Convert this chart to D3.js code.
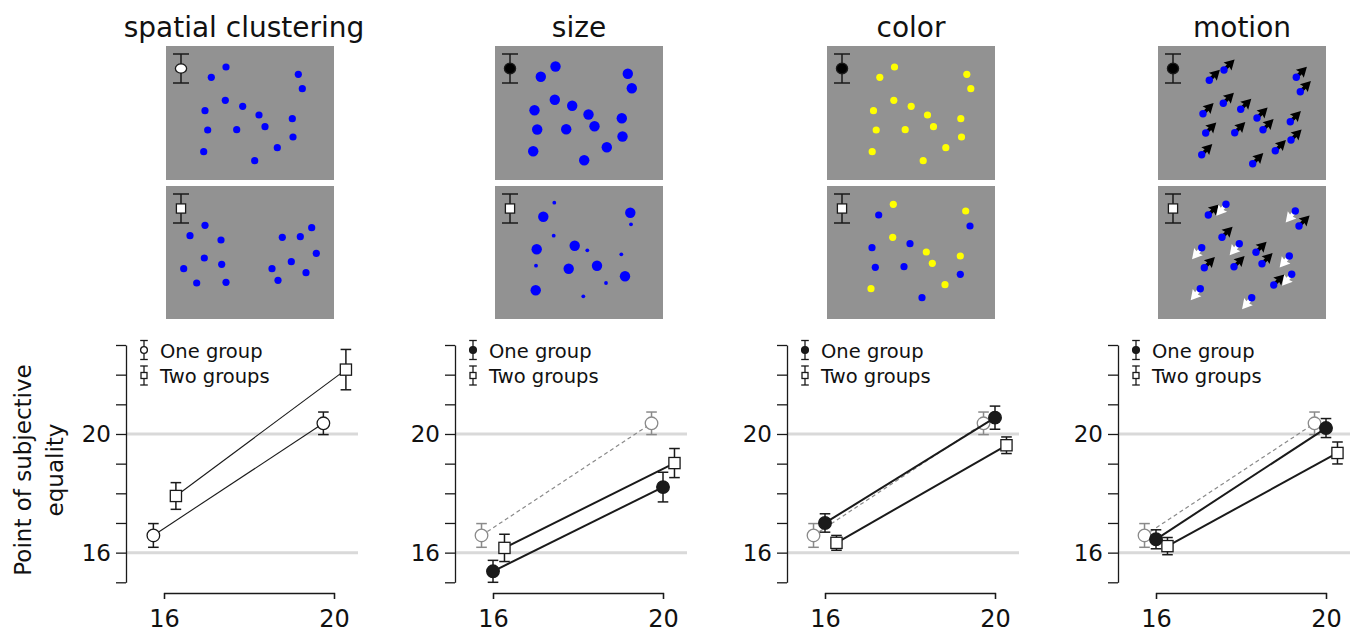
<!DOCTYPE html>
<html>
<head>
<meta charset="utf-8">
<script src="https://cdn.jsdelivr.net/npm/d3@7"></script>
<style>
  body { margin: 0; background: #fff; }
  text { font-family: "DejaVu Sans", sans-serif; fill: #111; }
</style>
</head>
<body>
<div id="chart"></div>
<script>
// ---- data ----
var conditions = ["spatial clustering", "size", "color", "motion"];
var sizes = [16, 20];
var yTicks = [15, 16, 17, 18, 19, 20, 21, 22, 23];
var yLabels = [16, 20];
var refLevels = [16, 20];
var legendLabels = ["One group", "Two groups"];

// baseline "one group" (spatial clustering), repeated in grey on the other panels
var baseOne = [16.58, 20.36];
var baseOneErr = [0.40, 0.38];

var oneGroup = [[16.58, 20.36], [15.37, 18.21], [17.00, 20.55], [16.45, 20.20]];
var oneGroupErr = [[0.40, 0.38], [0.37, 0.50], [0.31, 0.39], [0.32, 0.32]];
var twoGroups = [[17.91, 22.17], [16.16, 19.02], [16.33, 19.62], [16.22, 19.36]];
var twoGroupsErr = [[0.45, 0.68], [0.46, 0.49], [0.25, 0.28], [0.29, 0.37]];

// stimulus dot layouts (panel units, 168 x 134)
var onePos = [[45.3, 31.3], [60, 21], [132.3, 28.3], [136.3, 42.7], [59.3, 54.3], [39, 64.7],
              [76.7, 60.3], [93, 69], [99, 80.7], [126.3, 72.7], [41.7, 84], [70.7, 83.7],
              [127, 91], [111.3, 101.7], [37.7, 105.7], [88.7, 114.7]];
var spatialTwo = [[39, 39.3], [24, 49.7], [55, 54], [38.3, 72], [55.7, 78.3], [17.7, 82.7], [30.7, 97], [60, 96.3],
                  [145.7, 41.7], [116.3, 51.3], [134.3, 50.7], [150.3, 67.3], [125.3, 75.7], [106, 82.7], [140, 86.7], [112, 94.3]];
var sizeBig = [[48.3, 30.7], [135.3, 26.7], [41.7, 63.3], [79.7, 59.7], [73.7, 82.7], [102, 79.7], [130, 90.3], [40.7, 104.3]];
var sizeSmall = [[59.3, 16.7], [136, 38.3], [58.7, 49.7], [92.3, 64.3], [126.3, 68.3], [41, 79.7], [111, 97], [88.3, 110.3]];
var colorYellow = [[66.3, 18.3], [138.7, 25], [65.7, 51.3], [99.3, 66], [105.3, 77.3], [133.3, 70], [118, 98.7], [44, 102.7]];
var colorBlue = [[51.7, 29], [143, 40], [45, 61.7], [83, 57.7], [48.3, 81.3], [77, 80.7], [133.3, 88.3], [95, 111.7]];
var motionBlack = [[50.3, 29], [141, 40], [64, 51.3], [98, 66.3], [46.3, 81.7], [76, 80.7], [104, 77.7], [115.7, 99]];
var motionWhite = [[68, 18.3], [137.3, 25], [43.7, 61.7], [81.3, 57.7], [131.3, 70], [133.7, 88.3], [42.3, 102.7], [93.7, 111.7]];

// ---- layout ----
var w = 1354, h = 632;
var chartLeft = [126, 455, 787, 1118];
var BLUE = "#0000ff", YELLOW = "#ffff00", PANEL = "#929292", INK = "#1a1a1a", GREY = "#8a8a8a";

var svg = d3.select("#chart").append("svg")
    .attr("width", w)
    .attr("height", h);

var yScale = d3.scaleLinear().domain([15, 23]).range([582.3, 345]);

// stimulus configs per condition
var topSets = [
    [{ pts: onePos, r: 3.6, fill: BLUE, dx: 0, dy: 0 }],
    [{ pts: onePos, r: 5.2, fill: BLUE, dx: 0.5, dy: -0.5 }],
    [{ pts: onePos, r: 3.6, fill: YELLOW, dx: 7.5, dy: 0 }],
    [{ pts: onePos, r: 3.7, fill: BLUE, dx: 6, dy: 3, arrow: "black" }]
];
var bottomSets = [
    [{ pts: spatialTwo, r: 3.6, fill: BLUE }],
    [{ pts: sizeBig, r: 5.2, fill: BLUE }, { pts: sizeSmall, r: 1.9, fill: BLUE }],
    [{ pts: colorYellow, r: 3.6, fill: YELLOW }, { pts: colorBlue, r: 3.6, fill: BLUE }],
    [{ pts: motionBlack, r: 3.7, fill: BLUE, arrow: "black" }, { pts: motionWhite, r: 3.7, fill: BLUE, arrow: "white" }]
];

function arrowPath() {
    return "M0,-1.8 L6,-1.8 L5,-5.6 L15,0 L5,5.6 L6,1.8 L0,1.8 Z";
}

function drawPanel(g, left, top, ph, sets, glyph) {
    var px = d3.scaleLinear().domain([0, 168]).range([left, left + 168]);
    var py = d3.scaleLinear().domain([0, ph]).range([top, top + ph]);

    g.append("rect")
        .attr("x", px(0)).attr("y", py(0))
        .attr("width", px(168) - px(0)).attr("height", py(ph) - py(0))
        .attr("fill", PANEL);

    sets.forEach(function(s) {
        var dx = s.dx || 0, dy = s.dy || 0;
        if (s.arrow) {
            g.selectAll(null).data(s.pts).join("path")
                .attr("d", arrowPath())
                .attr("transform", function(d) {
                    return "translate(" + px(d[0] + dx) + "," + py(d[1] + dy) + ") rotate(" + (s.arrow === "black" ? -45 : 130) + ")";
                })
                .attr("fill", s.arrow === "black" ? "#000" : "#fff");
        }
    });
    sets.forEach(function(s) {
        var dx = s.dx || 0, dy = s.dy || 0;
        g.selectAll(null).data(s.pts).join("circle")
            .attr("cx", function(d) { return px(d[0] + dx); })
            .attr("cy", function(d) { return py(d[1] + dy); })
            .attr("r", s.r)
            .attr("fill", s.fill);
    });

    // little error-bar glyph top-left
    var gx = px(15);
    g.append("line").attr("x1", gx).attr("x2", gx).attr("y1", py(8)).attr("y2", py(37))
        .attr("stroke", INK).attr("stroke-width", 1.5);
    [8, 37].forEach(function(v) {
        g.append("line").attr("x1", gx - 8).attr("x2", gx + 8).attr("y1", py(v)).attr("y2", py(v))
            .attr("stroke", INK).attr("stroke-width", 1.5);
    });
    if (glyph === "square") {
        g.append("rect").attr("x", gx - 4.6).attr("y", py(22.5) - 4.6).attr("width", 9.2).attr("height", 9.2)
            .attr("fill", "#fff").attr("stroke", INK).attr("stroke-width", 1.3);
    } else {
        g.append("ellipse").attr("cx", gx).attr("cy", py(22.5))
            .attr("rx", 5.6).attr("ry", glyph === "open" ? 4.6 : 5.4)
            .attr("fill", glyph === "open" ? "#fff" : "#000")
            .attr("stroke", INK).attr("stroke-width", 1.3);
    }
}

function drawMarker(sel, kind, color, size) {
    if (kind === "square") {
        sel.append("rect")
            .attr("x", -size).attr("y", -size)
            .attr("width", 2 * size).attr("height", 2 * size)
            .attr("fill", "#fff").attr("stroke", color).attr("stroke-width", 1.3);
    } else {
        sel.append("circle")
            .attr("r", size)
            .attr("fill", kind === "filled" ? color : "#fff")
            .attr("stroke", color).attr("stroke-width", 1.3);
    }
}

function drawSeries(g, xScale, values, errs, opt) {
    var pts = values.map(function(v, k) {
        return { x: sizes[k] + opt.dodge, v: v, e: errs[k] };
    });
    var line = d3.line()
        .x(function(d) { return xScale(d.x); })
        .y(function(d) { return yScale(d.v); });

    g.append("path")
        .datum(pts)
        .attr("d", line)
        .attr("fill", "none")
        .attr("stroke", opt.color)
        .attr("stroke-width", opt.width)
        .attr("stroke-dasharray", opt.dash || null);

    var eb = g.selectAll(null).data(pts).join("g")
        .attr("stroke", opt.color).attr("stroke-width", 1.5);
    eb.append("line")
        .attr("x1", function(d) { return xScale(d.x); })
        .attr("x2", function(d) { return xScale(d.x); })
        .attr("y1", function(d) { return yScale(d.v - d.e); })
        .attr("y2", function(d) { return yScale(d.v + d.e); });
    [-1, 1].forEach(function(s) {
        eb.append("line")
            .attr("x1", function(d) { return xScale(d.x) - 5.3; })
            .attr("x2", function(d) { return xScale(d.x) + 5.3; })
            .attr("y1", function(d) { return yScale(d.v + s * d.e); })
            .attr("y2", function(d) { return yScale(d.v + s * d.e); });
    });

    var mk = g.selectAll(null).data(pts).join("g")
        .attr("transform", function(d) { return "translate(" + xScale(d.x) + "," + yScale(d.v) + ")"; });
    drawMarker(mk, opt.marker, opt.color, opt.marker === "square" ? 5.6 : 6.3);
}

conditions.forEach(function(cond, i) {
    var ax = chartLeft[i];
    var xScale = d3.scaleLinear().domain([16, 20]).range([ax + 38, ax + 208]);
    var g = svg.append("g");

    // title and stimulus panels
    var pLeft = ax + 40;
    g.append("text")
        .attr("x", pLeft + 84 - (i === 0 ? 6 : 0))
        .attr("y", 37)
        .attr("text-anchor", "middle")
        .style("font-size", "28px")
        .text(cond);
    drawPanel(g, pLeft, 46, 134, topSets[i], i === 0 ? "open" : "filled");
    drawPanel(g, pLeft, 186, 133, bottomSets[i], "square");

    // grey reference lines
    g.selectAll(null).data(refLevels).join("line")
        .attr("x1", ax).attr("x2", ax + 232)
        .attr("y1", function(d) { return yScale(d); })
        .attr("y2", function(d) { return yScale(d); })
        .attr("stroke", "#d9d9d9").attr("stroke-width", 3);

    // y axis
    var yAxis = d3.axisLeft(yScale)
        .tickValues(yTicks)
        .tickSize(10)
        .tickSizeOuter(0)
        .tickPadding(5)
        .tickFormat(function(d) { return yLabels.indexOf(d) >= 0 ? d : ""; });
    var ya = g.append("g")
        .attr("transform", "translate(" + ax + ",0)")
        .call(yAxis);

    // x axis
    var xAxis = d3.axisBottom(xScale)
        .tickValues(sizes)
        .tickSize(6)
        .tickSizeOuter(6)
        .tickPadding(11)
        .tickFormat(d3.format("d"));
    var xa = g.append("g")
        .attr("transform", "translate(0,593)")
        .call(xAxis);

    [ya, xa].forEach(function(a) {
        a.attr("font-family", null).attr("font-size", null);
        a.selectAll("path, line").attr("stroke", INK).attr("stroke-width", 1.3);
        a.selectAll("text").attr("fill", "#111");
    });
    ya.selectAll("text").style("font-size", "23px");
    xa.selectAll("text").style("font-size", "24px");

    // data
    if (i === 0) {
        drawSeries(g, xScale, oneGroup[i], oneGroupErr[i], { dodge: -0.25, color: INK, width: 1.1, marker: "open" });
        drawSeries(g, xScale, twoGroups[i], twoGroupsErr[i], { dodge: 0.28, color: INK, width: 1.1, marker: "square" });
    } else {
        drawSeries(g, xScale, baseOne, baseOneErr, { dodge: -0.27, color: GREY, width: 1.2, dash: "4,3", marker: "open" });
        drawSeries(g, xScale, twoGroups[i], twoGroupsErr[i], { dodge: 0.27, color: INK, width: 2, marker: "square" });
        drawSeries(g, xScale, oneGroup[i], oneGroupErr[i], { dodge: 0, color: INK, width: 2, marker: "filled" });
    }

    // legend
    var legKinds = [i === 0 ? "open" : "filled", "square"];
    legendLabels.forEach(function(lab, k) {
        var cy = 350 + k * 25.5;
        var lx = ax + 18;
        var lg = g.append("g").attr("stroke", INK).attr("stroke-width", 1.3);
        lg.append("line").attr("x1", lx).attr("x2", lx).attr("y1", cy - 9.5).attr("y2", cy + 9.5);
        lg.append("line").attr("x1", lx - 3.8).attr("x2", lx + 3.8).attr("y1", cy - 9.5).attr("y2", cy - 9.5);
        lg.append("line").attr("x1", lx - 3.8).attr("x2", lx + 3.8).attr("y1", cy + 9.5).attr("y2", cy + 9.5);
        var m = g.append("g").attr("transform", "translate(" + lx + "," + cy + ")");
        drawMarker(m, legKinds[k], INK, legKinds[k] === "square" ? 3 : 3.4);
        g.append("text")
            .attr("x", ax + 34)
            .attr("y", cy + 7.5)
            .style("font-size", "19.5px")
            .text(lab);
    });
});

// y axis title
var yTitle = ["Point of subjective", "equality"];
svg.selectAll(".ytitle").data(yTitle).join("text")
    .attr("class", "ytitle")
    .attr("transform", function(d, k) { return "translate(" + (k === 0 ? 31 : 63) + ",470) rotate(-90)"; })
    .attr("text-anchor", "middle")
    .style("font-size", "23px")
    .text(function(d) { return d; });
</script>
</body>
</html>
